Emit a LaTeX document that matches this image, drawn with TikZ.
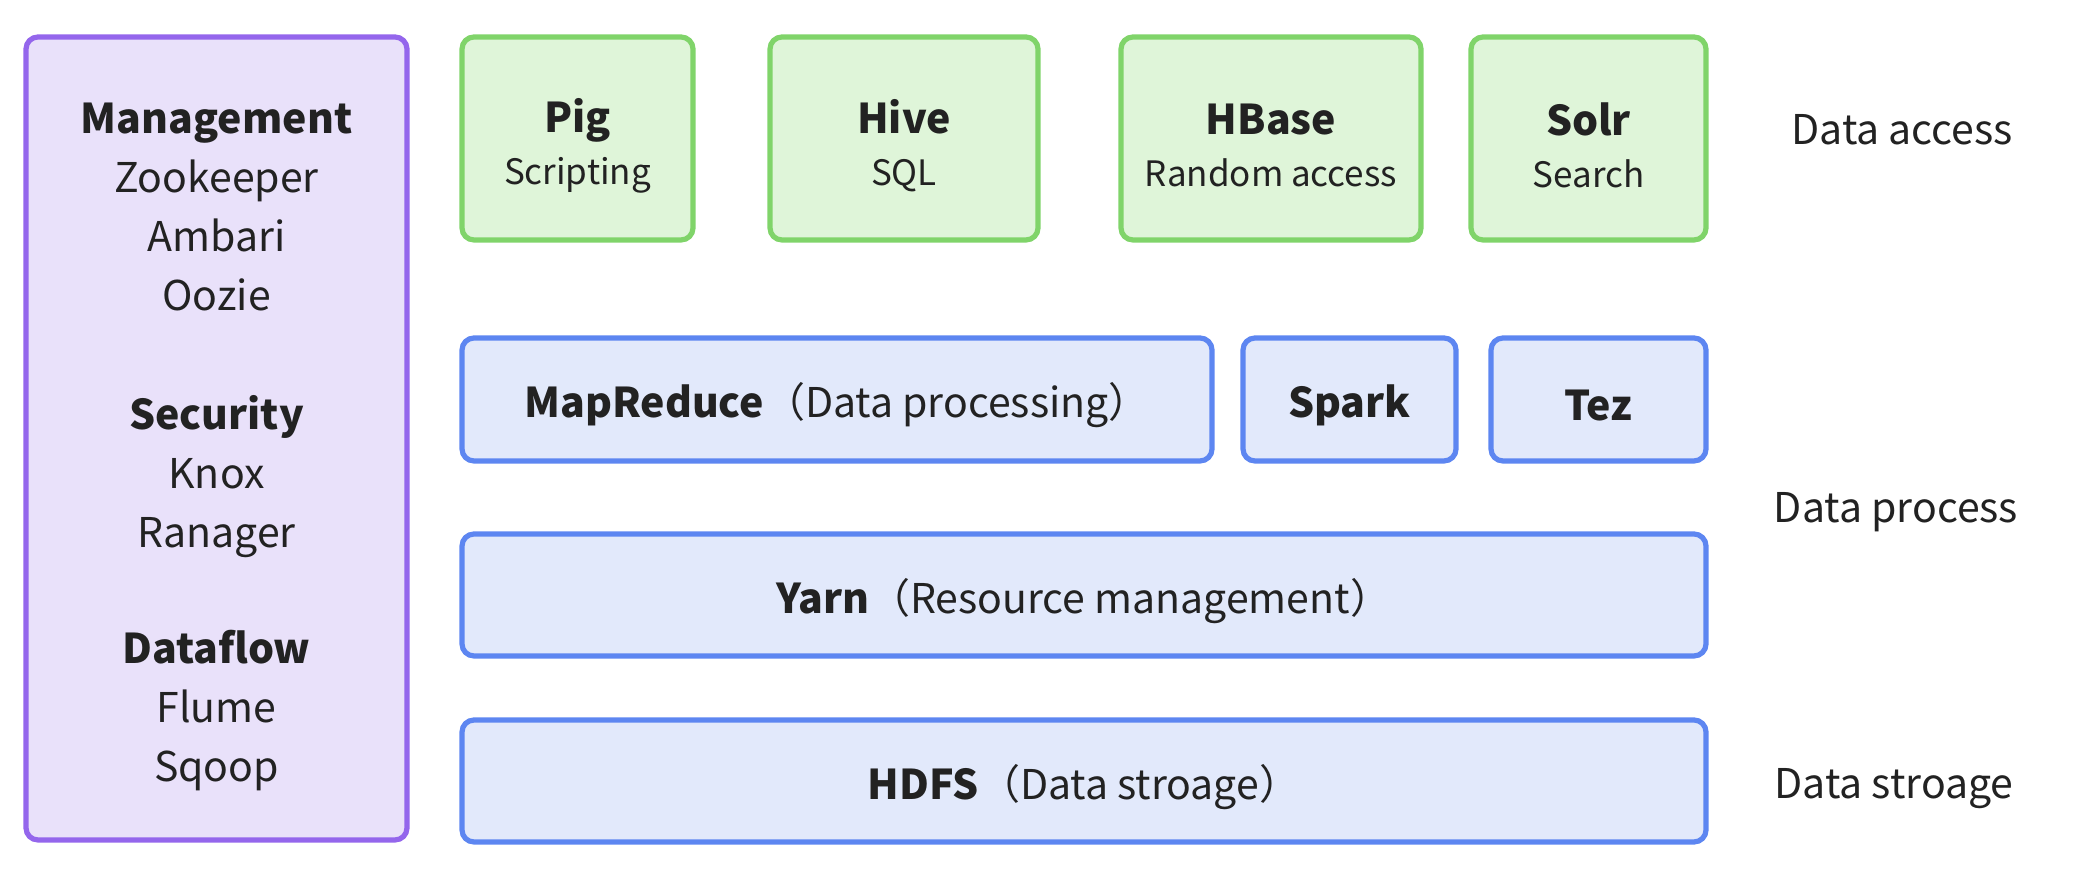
\documentclass[tikz,border=0pt]{standalone}
\usepackage{fontspec}
\setmainfont{Noto Sans CJK SC}
\usepackage{tikz}

\definecolor{mgmtline}{HTML}{9466EC}
\definecolor{mgmtfill}{HTML}{E9E1FA}
\definecolor{accline}{HTML}{80D46A}
\definecolor{accfill}{HTML}{DFF5D9}
\definecolor{procline}{HTML}{5D86F1}
\definecolor{procfill}{HTML}{E2E9FB}
\definecolor{txt}{HTML}{222222}

\newcommand{\lowtext}[2][3pt]{\raisebox{-#1}[\height][\depth]{#2}}
\newcommand{\subname}[1]{{\fontsize{17.5}{27}\selectfont #1}}

\tikzset{
  layerbox/.style={draw, line width=2.6pt, rounded corners=6pt, inner sep=0pt,
    align=center, text=txt, font=\fontsize{20.5}{27}\selectfont},
  mgmtbox/.style={layerbox, draw=mgmtline, fill=mgmtfill},
  accbox/.style={layerbox, draw=accline, fill=accfill},
  procbox/.style={layerbox, draw=procline, fill=procfill},
  grouptext/.style={align=center, text=txt, font=\fontsize{20.5}{29.5}\selectfont},
  layerlabel/.style={text=txt, font=\fontsize{20.5}{27}\selectfont}
}

\begin{document}
\begin{tikzpicture}[x=0.5pt,y=-0.5pt]
            \useasboundingbox (0,0) rectangle (2074,870);
            %\draw[very thin,color=gray] (0,0) grid[step=100] (2074,870);
            % side column
            \node[mgmtbox, minimum width=190.5pt, minimum height=401.5pt] (mgmt) at (216.5,438.5) {};
            \node[grouptext] (manage) at (216.5,207) {\textbf{Management}\\Zookeeper\\Ambari\\Oozie};
            \node[grouptext] (secure) at (216.5,477) {\textbf{Security}\\Knox\\Ranager};
            \node[grouptext] (dflow) at (216.5,711) {\textbf{Dataflow}\\Flume\\Sqoop};
            % data access
            \node[accbox, minimum width=115.5pt, minimum height=101.5pt] (pig) at (577.5,138.5) {\lowtext[4pt]{\textbf{Pig}}\\\lowtext{\subname{Scripting}}};
            \node[accbox, minimum width=134pt, minimum height=101.5pt] (hive) at (904,138.5) {\lowtext[4pt]{\textbf{Hive}}\\\lowtext{\subname{SQL}}};
            \node[accbox, minimum width=150pt, minimum height=101.5pt] (hbase) at (1271,138.5) {\lowtext[4pt]{\textbf{HBase}}\\\lowtext{\subname{Random access}}};
            \node[accbox, minimum width=117.5pt, minimum height=101.5pt] (solr) at (1588.5,138.5) {\lowtext[4pt]{\textbf{Solr}}\\\lowtext{\subname{Search}}};
            % data process
            \node[procbox, minimum width=375pt, minimum height=61.5pt] (mapred) at (837,399.5) {\lowtext{\textbf{MapReduce}（Data processing）}};
            \node[procbox, minimum width=106.5pt, minimum height=61.5pt] (spark) at (1349.5,399.5) {\lowtext{\textbf{Spark}}};
            \node[procbox, minimum width=107.5pt, minimum height=61.5pt] (tez) at (1598.5,399.5) {\lowtext{\textbf{Tez}}};
            \node[procbox, minimum width=622pt, minimum height=61pt] (yarn) at (1084,595) {\lowtext{\textbf{Yarn}（Resource management）}};
            % data storage
            \node[procbox, minimum width=622pt, minimum height=61pt] (hdfs) at (1084,781) {\lowtext{\textbf{HDFS}（Data stroage）}};
            % layer names
            \node[layerlabel] (access) at (1902,130) {Data access};
            \node[layerlabel] (process) at (1896,512) {Data process};
            \node[layerlabel] (storage) at (1894,789) {Data stroage};
        \end{tikzpicture}
\end{document}
